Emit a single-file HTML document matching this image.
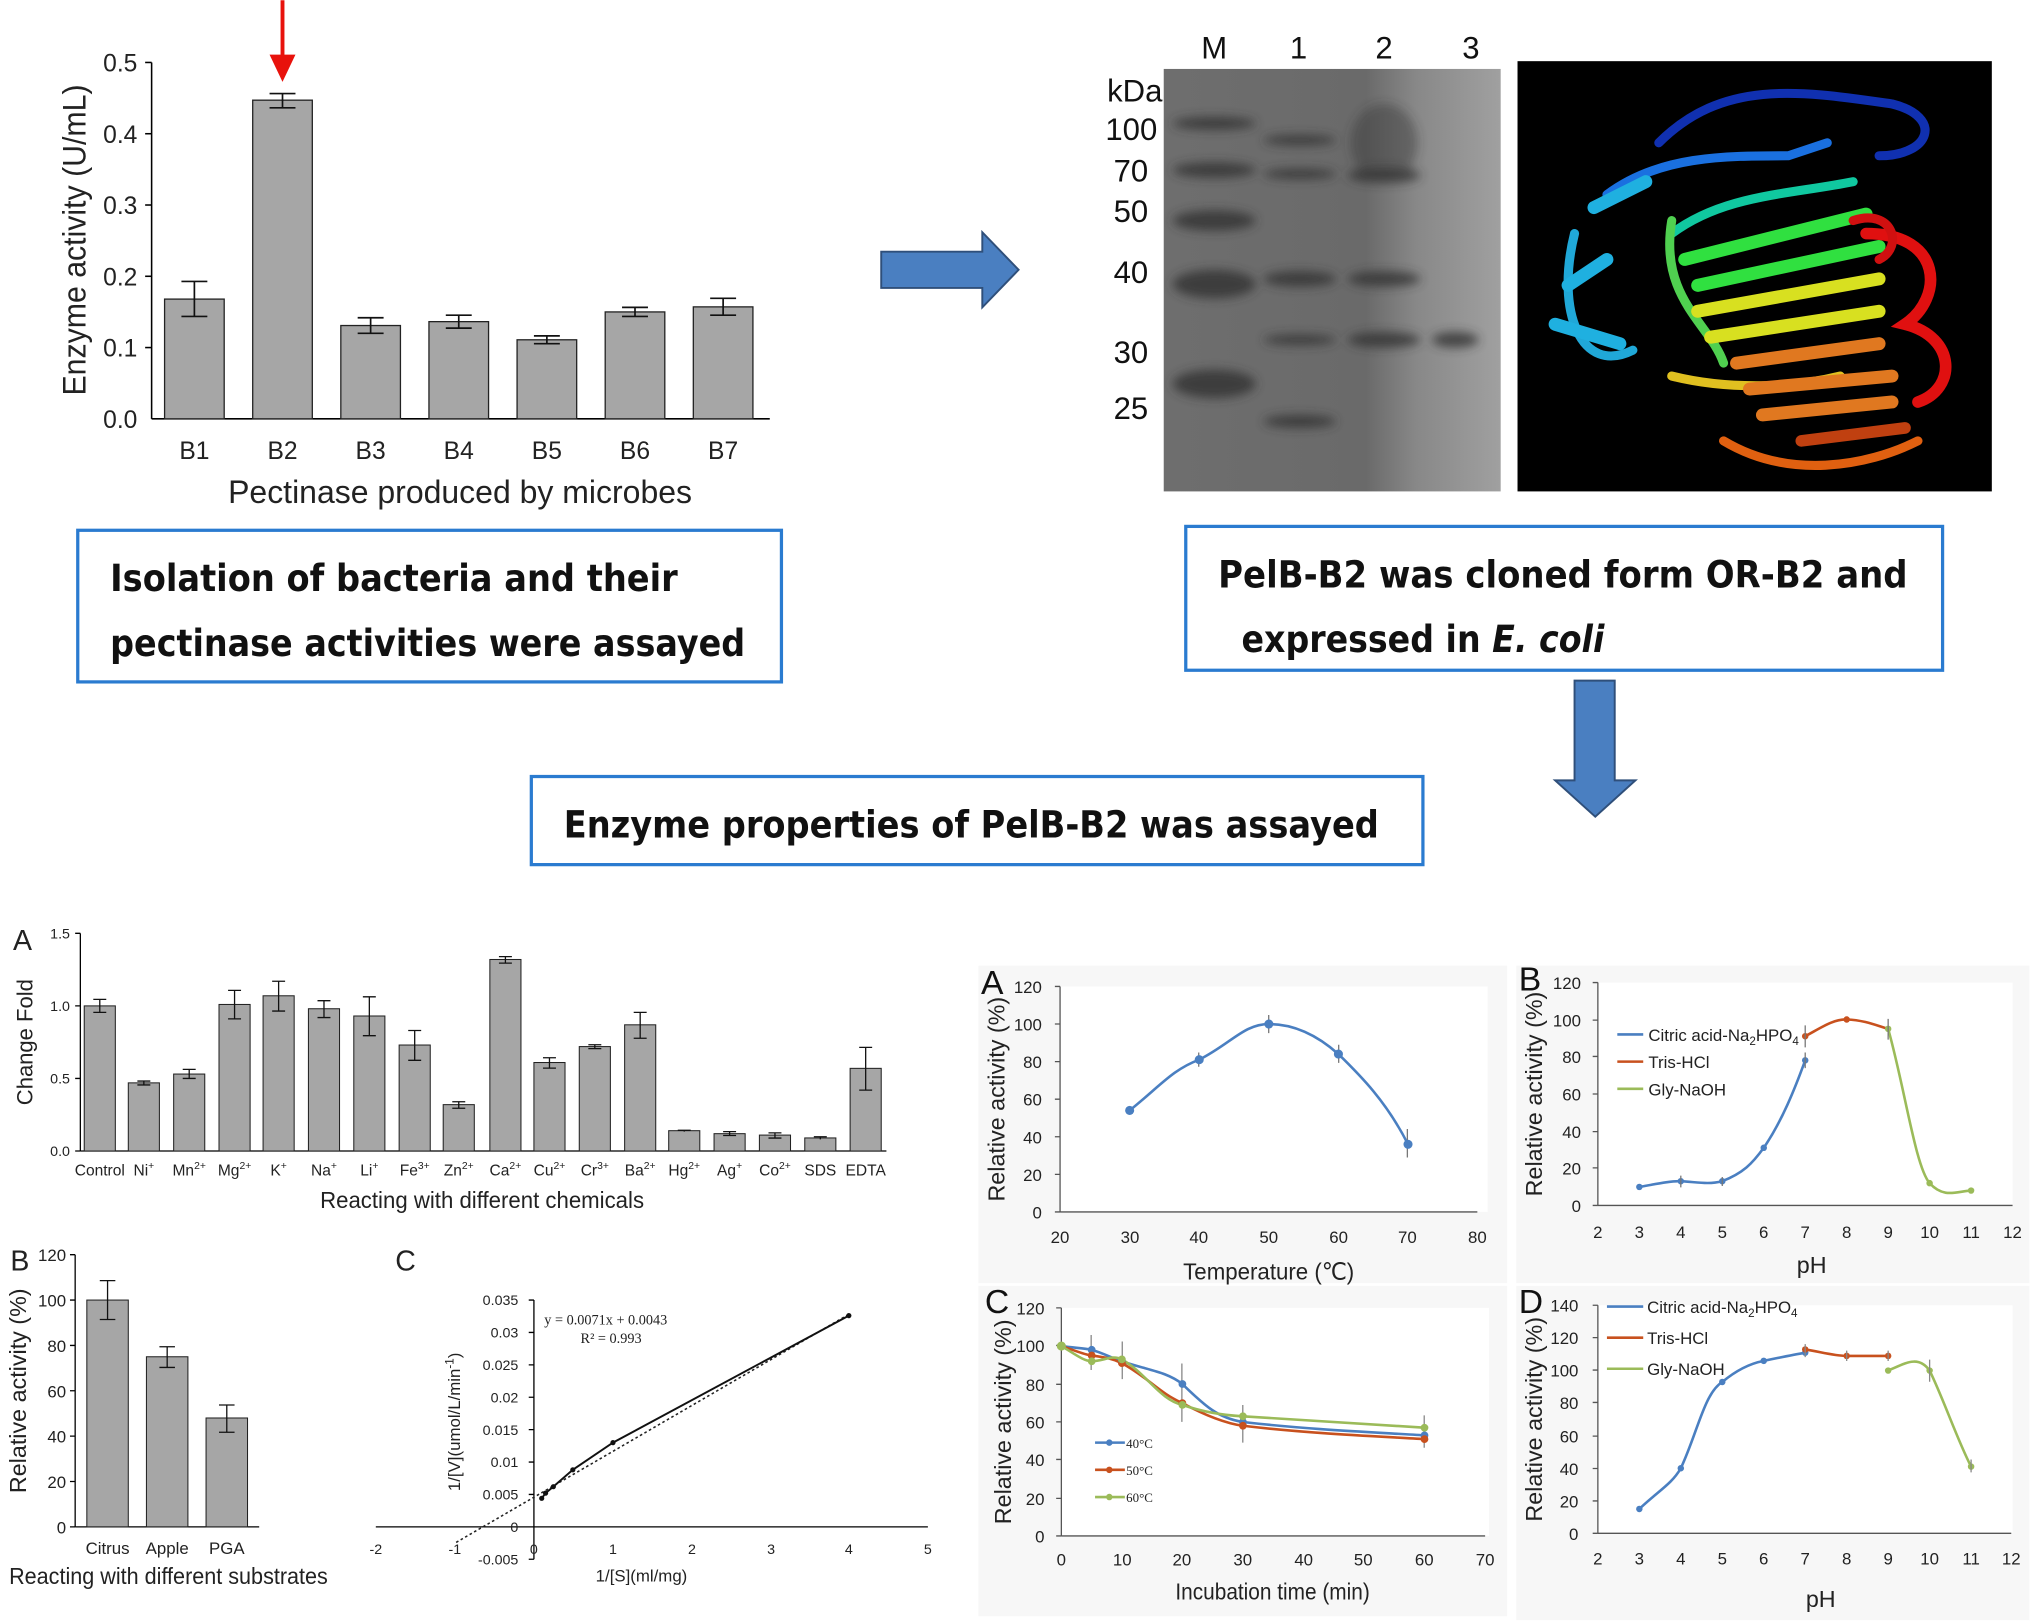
<!DOCTYPE html>
<html><head><meta charset="utf-8"><style>
html,body{margin:0;padding:0;background:#fff}
svg{display:block}
text{font-family:"Liberation Sans",Arial,sans-serif}
.s{font-family:"Liberation Serif",serif}
.b{font-weight:bold;font-family:"DejaVu Sans","Liberation Sans",sans-serif}
</style></head><body>
<svg width="2032" height="1623" viewBox="0 0 1568 1252" xmlns="http://www.w3.org/2000/svg">
<rect width="1568" height="1252" fill="#fff"/>

<!-- ========== TOP BAR CHART ========== -->
<g stroke="#000" stroke-width="1.2" fill="none">
<line x1="117" y1="48" x2="117" y2="323"/><line x1="117" y1="323" x2="594" y2="323"/>
<line x1="112" y1="48" x2="117" y2="48"/><line x1="112" y1="103" x2="117" y2="103"/><line x1="112" y1="158" x2="117" y2="158"/><line x1="112" y1="213" x2="117" y2="213"/><line x1="112" y1="268" x2="117" y2="268"/>
</g>
<g font-size="19" text-anchor="end" fill="#222">
<text x="106" y="55">0.5</text><text x="106" y="110">0.4</text><text x="106" y="165">0.3</text><text x="106" y="220">0.2</text><text x="106" y="275">0.1</text><text x="106" y="330">0.0</text>
</g>
<g fill="#a6a6a6" stroke="#222" stroke-width="1">
<rect x="127" y="230.6" width="46" height="92.4"/>
<rect x="195" y="77.1" width="46" height="245.9"/>
<rect x="263" y="251" width="46" height="72"/>
<rect x="331" y="248" width="46" height="75"/>
<rect x="399" y="262" width="46" height="61"/>
<rect x="467" y="240.5" width="46" height="82.5"/>
<rect x="535" y="236.6" width="46" height="86.4"/>
</g>
<g stroke="#111" stroke-width="1.3">
<path d="M150 217V244M140 217H160M140 244H160"/>
<path d="M218 72V83M208 72H228M208 83H228"/>
<path d="M286 245V257M276 245H296M276 257H296"/>
<path d="M354 243V253M344 243H364M344 253H364"/>
<path d="M422 259V265M412 259H432M412 265H432"/>
<path d="M490 237V244M480 237H500M480 244H500"/>
<path d="M558 230V243M548 230H568M548 243H568"/>
</g>
<g font-size="19" text-anchor="middle" fill="#222">
<text x="150" y="354">B1</text><text x="218" y="354">B2</text><text x="286" y="354">B3</text><text x="354" y="354">B4</text><text x="422" y="354">B5</text><text x="490" y="354">B6</text><text x="558" y="354">B7</text>
</g>
<text x="355" y="388" font-size="25" text-anchor="middle" fill="#222" textLength="358" lengthAdjust="spacingAndGlyphs">Pectinase produced by microbes</text>
<text transform="translate(66,185) rotate(-90)" font-size="25" text-anchor="middle" fill="#222" textLength="240" lengthAdjust="spacingAndGlyphs">Enzyme activity (U/mL)</text>
<line x1="218" y1="0" x2="218" y2="44" stroke="#e8120c" stroke-width="3"/>
<polygon points="208,42 228,42 218,63" fill="#e8120c"/>

<rect x="60" y="409" width="543" height="117" fill="none" stroke="#2a7bd0" stroke-width="2.5"/>
<text x="85" y="456" font-size="29" class="b" fill="#111" textLength="438" lengthAdjust="spacingAndGlyphs">Isolation of bacteria and their</text>
<text x="85" y="506" font-size="29" class="b" fill="#111" textLength="490" lengthAdjust="spacingAndGlyphs">pectinase activities were assayed</text>

<!-- right arrow -->
<polygon points="680,194 758,194 758,179 786,208 758,237 758,222 680,222" fill="#4a7fc1" stroke="#2f4f7a" stroke-width="1.5"/>

<!-- ========== GEL ========== -->
<g class="s" font-size="24" fill="#111" text-anchor="middle">
<text x="937" y="45">M</text><text x="1002" y="45">1</text><text x="1068" y="45">2</text><text x="1135" y="45">3</text>
</g>
<g class="s" font-size="24" fill="#111" text-anchor="end">
<text x="897" y="78">kDa</text><text x="893" y="108">100</text><text x="886" y="140">70</text><text x="886" y="171">50</text><text x="886" y="218">40</text><text x="886" y="280">30</text><text x="886" y="323">25</text>
</g>
<defs>
<linearGradient id="gel" x1="0" x2="1" y1="0" y2="0">
<stop offset="0" stop-color="#6e6e6e"/><stop offset="0.6" stop-color="#6a6a6a"/><stop offset="0.75" stop-color="#888"/><stop offset="1" stop-color="#a0a0a0"/>
</linearGradient>
<filter id="bl"><feGaussianBlur stdDeviation="4"/></filter>
</defs>
<rect x="898" y="53" width="260" height="326" fill="url(#gel)"/>
<g fill="#333" filter="url(#bl)" opacity="0.8">
<ellipse cx="937" cy="95" rx="32" ry="5"/><ellipse cx="937" cy="131" rx="32" ry="6"/><ellipse cx="937" cy="170" rx="32" ry="8"/>
<ellipse cx="937" cy="219" rx="32" ry="11"/><ellipse cx="937" cy="296" rx="32" ry="11"/>
<ellipse cx="1003" cy="108" rx="28" ry="4"/><ellipse cx="1003" cy="134" rx="28" ry="4"/><ellipse cx="1003" cy="215" rx="28" ry="6"/><ellipse cx="1003" cy="262" rx="28" ry="4"/><ellipse cx="1003" cy="325" rx="28" ry="5"/>
<ellipse cx="1068" cy="110" rx="26" ry="30" opacity="0.5"/><ellipse cx="1068" cy="135" rx="28" ry="6"/><ellipse cx="1068" cy="215" rx="28" ry="6"/><ellipse cx="1068" cy="262" rx="28" ry="6"/>
<ellipse cx="1123" cy="262" rx="18" ry="6"/>
</g>

<!-- ========== PROTEIN ========== -->
<rect x="1171" y="47" width="366" height="332" fill="#000"/>
<g fill="none" stroke-width="7" stroke-linecap="round">
<path d="M1280 110 C1330 60 1390 70 1460 80 C1500 90 1490 120 1450 120" stroke="#1030b0"/>
<path d="M1240 150 C1280 120 1330 120 1380 120 L1410 110" stroke="#1a70e0"/>
<path d="M1215 180 C1200 240 1220 290 1260 270" stroke="#20a8d8"/>
<path d="M1230 160 L1270 140 M1210 220 L1240 200 M1200 250 L1250 265" stroke="#1fb0e0" stroke-width="10"/>
<path d="M1290 180 C1330 150 1380 150 1430 140" stroke="#10c8a0"/>
<path d="M1300 200 L1440 165 M1310 220 L1450 190" stroke="#30e040" stroke-width="10"/>
<path d="M1290 170 C1280 230 1320 250 1330 280" stroke="#50d050"/>
<path d="M1310 240 L1450 215 M1320 260 L1450 240" stroke="#d8e020" stroke-width="10"/>
<path d="M1290 290 C1330 300 1380 300 1420 290" stroke="#e0c020"/>
<path d="M1340 280 L1450 265 M1350 300 L1460 290 M1360 320 L1460 310" stroke="#e07820" stroke-width="10"/>
<path d="M1330 340 C1380 370 1440 360 1480 340" stroke="#e06010"/>
<path d="M1440 180 C1500 180 1500 230 1470 250 C1510 260 1510 300 1480 310" stroke="#e01010" stroke-width="9"/>
<path d="M1430 170 C1460 160 1470 190 1450 200" stroke="#d01010"/>
<path d="M1390 340 L1470 330" stroke="#c04010" stroke-width="9"/>
</g>

<rect x="915" y="406" width="584" height="111" fill="none" stroke="#2a7bd0" stroke-width="2.5"/>
<text x="940" y="453" font-size="29" class="b" fill="#111" textLength="532" lengthAdjust="spacingAndGlyphs">PelB-B2 was cloned form OR-B2 and</text>
<text x="958" y="503" font-size="29" class="b" fill="#111" textLength="280" lengthAdjust="spacingAndGlyphs">expressed in <tspan font-style="italic">E. coli</tspan></text>

<!-- down arrow -->
<polygon points="1215,525 1246,525 1246,602 1262,602 1231,630 1200,602 1215,602" fill="#4a7fc1" stroke="#2f4f7a" stroke-width="1.5"/>

<rect x="410" y="599" width="688" height="68" fill="none" stroke="#2a7bd0" stroke-width="2.5"/>
<text x="435" y="646" font-size="29" class="b" fill="#111" textLength="629" lengthAdjust="spacingAndGlyphs">Enzyme properties of PelB-B2 was assayed</text>

<!-- ========== BOTTOM LEFT A ========== -->
<text x="10" y="733" font-size="22" fill="#222">A</text>
<g stroke="#000" stroke-width="1">
<line x1="62" y1="720" x2="62" y2="888"/><line x1="62" y1="888" x2="684" y2="888"/>
<path d="M58 720H62M58 776H62M58 832H62M58 888H62"/>
</g>
<g font-size="11" text-anchor="end" fill="#222"><text x="54" y="724">1.5</text><text x="54" y="780">1.0</text><text x="54" y="836">0.5</text><text x="54" y="892">0.0</text></g>
<text transform="translate(25,804) rotate(-90)" font-size="17" text-anchor="middle" fill="#222">Change Fold</text>
<g fill="#a6a6a6" stroke="#222" stroke-width="0.8">
<rect x="65" y="776" width="24" height="112"/><rect x="99" y="835.4" width="24" height="52.6"/><rect x="134" y="828.6" width="24" height="59.4"/>
<rect x="169" y="774.9" width="24" height="113.1"/><rect x="203" y="768.2" width="24" height="119.8"/><rect x="238" y="778.2" width="24" height="109.8"/>
<rect x="273" y="783.8" width="24" height="104.2"/><rect x="308" y="806.2" width="24" height="81.8"/><rect x="342" y="852.2" width="24" height="35.8"/>
<rect x="378" y="740.2" width="24" height="147.8"/><rect x="412" y="819.7" width="24" height="68.3"/><rect x="447" y="807.4" width="24" height="80.6"/>
<rect x="482" y="790.6" width="24" height="97.4"/><rect x="516" y="872.3" width="24" height="15.7"/><rect x="551" y="874.6" width="24" height="13.4"/>
<rect x="586" y="875.7" width="24" height="12.3"/><rect x="621" y="877.9" width="24" height="10.1"/><rect x="656" y="824.2" width="24" height="63.8"/>
</g>
<g stroke="#111" stroke-width="1">
<path d="M77 771V781M72 771H82M72 781H82"/><path d="M111 834V837M106 834H116M106 837H116"/><path d="M146 825V832M141 825H151M141 832H151"/>
<path d="M181 764V786M176 764H186M176 786H186"/><path d="M215 757V780M210 757H220M210 780H220"/><path d="M250 772V785M245 772H255M245 785H255"/>
<path d="M285 769V799M280 769H290M280 799H290"/><path d="M320 795V818M315 795H325M315 818H325"/><path d="M354 850V855M349 850H359M349 855H359"/>
<path d="M390 738V743M385 738H395M385 743H395"/><path d="M424 816V824M419 816H429M419 824H429"/><path d="M459 806V809M454 806H464M454 809H464"/>
<path d="M494 781V801M489 781H499M489 801H499"/><path d="M528 872V873M523 872H533"/><path d="M563 873V876M558 873H568M558 876H568"/>
<path d="M598 874V878M593 874H603M593 878H603"/><path d="M633 877V879M628 877H638"/><path d="M668 808V841M663 808H673M663 841H673"/>
</g>
<g font-size="12" text-anchor="middle" fill="#222">
<text x="77" y="907">Control</text><text x="111" y="907">Ni<tspan font-size="8" dy="-5">+</tspan></text><text x="146" y="907">Mn<tspan font-size="8" dy="-5">2+</tspan></text>
<text x="181" y="907">Mg<tspan font-size="8" dy="-5">2+</tspan></text><text x="215" y="907">K<tspan font-size="8" dy="-5">+</tspan></text><text x="250" y="907">Na<tspan font-size="8" dy="-5">+</tspan></text>
<text x="285" y="907">Li<tspan font-size="8" dy="-5">+</tspan></text><text x="320" y="907">Fe<tspan font-size="8" dy="-5">3+</tspan></text><text x="354" y="907">Zn<tspan font-size="8" dy="-5">2+</tspan></text>
<text x="390" y="907">Ca<tspan font-size="8" dy="-5">2+</tspan></text><text x="424" y="907">Cu<tspan font-size="8" dy="-5">2+</tspan></text><text x="459" y="907">Cr<tspan font-size="8" dy="-5">3+</tspan></text>
<text x="494" y="907">Ba<tspan font-size="8" dy="-5">2+</tspan></text><text x="528" y="907">Hg<tspan font-size="8" dy="-5">2+</tspan></text><text x="563" y="907">Ag<tspan font-size="8" dy="-5">+</tspan></text>
<text x="598" y="907">Co<tspan font-size="8" dy="-5">2+</tspan></text><text x="633" y="907">SDS</text><text x="668" y="907">EDTA</text>
</g>
<text x="372" y="932" font-size="18" text-anchor="middle" fill="#222" textLength="250" lengthAdjust="spacingAndGlyphs">Reacting with different chemicals</text>

<!-- ========== BOTTOM LEFT B ========== -->
<text x="8" y="980" font-size="22" fill="#222">B</text>
<g stroke="#000" stroke-width="1">
<line x1="58" y1="968" x2="58" y2="1178"/><line x1="58" y1="1178" x2="200" y2="1178"/>
<path d="M54 968H58M54 1003H58M54 1038H58M54 1073H58M54 1108H58M54 1143H58M54 1178H58"/>
</g>
<g font-size="13" text-anchor="end" fill="#222"><text x="51" y="973">120</text><text x="51" y="1008">100</text><text x="51" y="1043">80</text><text x="51" y="1078">60</text><text x="51" y="1113">40</text><text x="51" y="1148">20</text><text x="51" y="1183">0</text></g>
<text transform="translate(20,1073) rotate(-90)" font-size="18" text-anchor="middle" fill="#222">Relative activity (%)</text>
<g fill="#a6a6a6" stroke="#222" stroke-width="0.8">
<rect x="67" y="1003" width="32" height="175"/><rect x="113" y="1046.75" width="32" height="131.25"/><rect x="159" y="1094" width="32" height="84"/>
</g>
<g stroke="#111" stroke-width="1"><path d="M83 988V1018M77 988H89M77 1018H89"/><path d="M129 1039V1055M123 1039H135M123 1055H135"/><path d="M175 1084V1105M169 1084H181M169 1105H181"/></g>
<g font-size="13" text-anchor="middle" fill="#222"><text x="83" y="1199">Citrus</text><text x="129" y="1199">Apple</text><text x="175" y="1199">PGA</text></g>
<text x="130" y="1222" font-size="18" text-anchor="middle" fill="#222" textLength="246" lengthAdjust="spacingAndGlyphs">Reacting with different substrates</text>

<!-- ========== BOTTOM LEFT C ========== -->
<text x="305" y="980" font-size="22" fill="#222">C</text>
<g stroke="#000" stroke-width="1">
<line x1="290" y1="1178" x2="716" y2="1178"/><line x1="412" y1="1003" x2="412" y2="1203"/>
<path d="M408 1003H412M408 1028H412M408 1053H412M408 1078H412M408 1103H412M408 1128H412M408 1153H412M408 1203H412"/>
</g>
<g font-size="11" text-anchor="end" fill="#222"><text x="400" y="1007">0.035</text><text x="400" y="1032">0.03</text><text x="400" y="1057">0.025</text><text x="400" y="1082">0.02</text><text x="400" y="1107">0.015</text><text x="400" y="1132">0.01</text><text x="400" y="1157">0.005</text><text x="400" y="1182">0</text><text x="400" y="1207">-0.005</text></g>
<g font-size="11" text-anchor="middle" fill="#222"><text x="290" y="1199">-2</text><text x="351" y="1199">-1</text><text x="412" y="1199">0</text><text x="473" y="1199">1</text><text x="534" y="1199">2</text><text x="595" y="1199">3</text><text x="655" y="1199">4</text><text x="716" y="1199">5</text></g>
<text transform="translate(355,1097) rotate(-90)" font-size="13" text-anchor="middle" fill="#222">1/[V](umol/L/min<tspan font-size="9" dy="-5">-1</tspan><tspan dy="5">)</tspan></text>
<text x="495" y="1220" font-size="13" text-anchor="middle" fill="#222">1/[S](ml/mg)</text>
<text x="420" y="1022" font-size="11" class="s" fill="#222">y = 0.0071x + 0.0043</text>
<text x="448" y="1036" font-size="11" class="s" fill="#222">R² = 0.993</text>
<line x1="352" y1="1190" x2="655" y2="1014" stroke="#222" stroke-width="1.2" stroke-dasharray="2,2"/>
<path d="M418 1156 L421 1152 L427 1147 L442 1134 L473 1113 L655 1015" fill="none" stroke="#111" stroke-width="1.5"/>
<g fill="#111"><circle cx="418" cy="1156" r="2"/><circle cx="421" cy="1152" r="2"/><circle cx="427" cy="1147" r="2"/><circle cx="442" cy="1134" r="2"/><circle cx="473" cy="1113" r="2"/><circle cx="655" cy="1015" r="2"/></g>

<!-- ========== RIGHT PANELS BG ========== -->
<rect x="755" y="745" width="408" height="245" fill="#f7f7f7"/>
<rect x="1170" y="745" width="396" height="245" fill="#f7f7f7"/>
<rect x="755" y="992" width="408" height="255" fill="#f7f7f7"/>
<rect x="1170" y="992" width="396" height="258" fill="#f7f7f7"/>
<rect x="818" y="761" width="330" height="174" fill="#fff"/>
<rect x="1233" y="758" width="320" height="172" fill="#fff"/>
<rect x="819" y="1009" width="330" height="176" fill="#fff"/>
<rect x="1233" y="1007" width="320" height="176" fill="#fff"/>

<!-- ===== Right A ===== -->
<text x="757" y="767" font-size="26" fill="#111">A</text>
<g stroke="#555" stroke-width="1"><line x1="818" y1="761" x2="818" y2="935"/><line x1="818" y1="935" x2="1140" y2="935"/>
<path d="M814 761H818M814 790H818M814 819H818M814 848H818M814 877H818M814 906H818M814 935H818"/></g>
<g font-size="13" text-anchor="end" fill="#222"><text x="804" y="766">120</text><text x="804" y="795">100</text><text x="804" y="824">80</text><text x="804" y="853">60</text><text x="804" y="882">40</text><text x="804" y="911">20</text><text x="804" y="940">0</text></g>
<g font-size="13" text-anchor="middle" fill="#222"><text x="818" y="959">20</text><text x="872" y="959">30</text><text x="925" y="959">40</text><text x="979" y="959">50</text><text x="1033" y="959">60</text><text x="1086" y="959">70</text><text x="1140" y="959">80</text></g>
<text x="979" y="987" font-size="18" text-anchor="middle" fill="#222" textLength="132" lengthAdjust="spacingAndGlyphs">Temperature (℃)</text>
<text transform="translate(775,848) rotate(-90)" font-size="18" text-anchor="middle" fill="#222">Relative activity (%)</text>
<path d="M871.7 856.7 C895 838 905 825 925.4 817.5 C950 805 960 790 979.1 790 C1000 790 1018 800 1032.8 813.2 C1050 830 1070 850 1086.5 882.8" fill="none" stroke="#4a7fc1" stroke-width="2"/>
<g stroke="#777" stroke-width="1"><path d="M925 812V823M979 783V797M1033 806V820M1086 871V893"/></g>
<g fill="#4a7fc1"><circle cx="871.7" cy="856.7" r="3.5"/><circle cx="925.4" cy="817.5" r="3.5"/><circle cx="979.1" cy="790" r="3.5"/><circle cx="1032.8" cy="813.2" r="3.5"/><circle cx="1086.5" cy="882.8" r="3.5"/></g>

<!-- ===== Right B ===== -->
<text x="1172" y="764" font-size="26" fill="#111">B</text>
<g stroke="#555" stroke-width="1"><line x1="1233" y1="758" x2="1233" y2="930"/><line x1="1233" y1="930" x2="1553" y2="930"/>
<path d="M1229 758H1233M1229 787H1233M1229 815H1233M1229 844H1233M1229 873H1233M1229 901H1233M1229 930H1233"/></g>
<g font-size="13" text-anchor="end" fill="#222"><text x="1220" y="763">120</text><text x="1220" y="792">100</text><text x="1220" y="820">80</text><text x="1220" y="849">60</text><text x="1220" y="878">40</text><text x="1220" y="906">20</text><text x="1220" y="935">0</text></g>
<g font-size="13" text-anchor="middle" fill="#222"><text x="1233" y="955">2</text><text x="1265" y="955">3</text><text x="1297" y="955">4</text><text x="1329" y="955">5</text><text x="1361" y="955">6</text><text x="1393" y="955">7</text><text x="1425" y="955">8</text><text x="1457" y="955">9</text><text x="1489" y="955">10</text><text x="1521" y="955">11</text><text x="1553" y="955">12</text></g>
<text x="1398" y="982" font-size="18" text-anchor="middle" fill="#222">pH</text>
<text transform="translate(1190,844) rotate(-90)" font-size="18" text-anchor="middle" fill="#222">Relative activity (%)</text>
<path d="M1265 915.7 C1280 913 1290 911 1297 911.3 C1310 912 1318 914 1329 911.3 C1345 905 1352 898 1361 885.5 C1375 865 1385 840 1393 818" fill="none" stroke="#4a7fc1" stroke-width="2"/>
<path d="M1393 799.4 C1405 793 1415 786 1425 786.5 C1440 787 1450 792 1457 793.7" fill="none" stroke="#c8511e" stroke-width="2"/>
<path d="M1457 793.7 C1470 840 1478 900 1489 912.8 C1500 925 1510 919 1521 918.5" fill="none" stroke="#9bbb59" stroke-width="2"/>
<g fill="#4a7fc1"><circle cx="1265" cy="915.7" r="2.5"/><circle cx="1297" cy="911.3" r="2.5"/><circle cx="1329" cy="911.3" r="2.5"/><circle cx="1361" cy="885.5" r="2.5"/><circle cx="1393" cy="818" r="2.5"/></g>
<g fill="#c8511e"><circle cx="1393" cy="799.4" r="2.5"/><circle cx="1425" cy="786.5" r="2.5"/></g>
<g fill="#9bbb59"><circle cx="1457" cy="793.7" r="2.5"/><circle cx="1489" cy="912.8" r="2.5"/><circle cx="1521" cy="918.5" r="2.5"/></g>
<g stroke="#777" stroke-width="1"><path d="M1297 907V916M1329 908V915M1393 812V824M1393 791V808M1457 786V802"/></g>
<line x1="1248" y1="798" x2="1268" y2="798" stroke="#4a7fc1" stroke-width="2"/><text x="1272" y="803" font-size="13" fill="#222">Citric acid-Na<tspan font-size="9" dy="3">2</tspan><tspan dy="-3">HPO</tspan><tspan font-size="9" dy="3">4</tspan></text>
<line x1="1248" y1="819" x2="1268" y2="819" stroke="#c8511e" stroke-width="2"/><text x="1272" y="824" font-size="13" fill="#222">Tris-HCl</text>
<line x1="1248" y1="840" x2="1268" y2="840" stroke="#9bbb59" stroke-width="2"/><text x="1272" y="845" font-size="13" fill="#222">Gly-NaOH</text>

<!-- ===== Right C ===== -->
<text x="760" y="1013" font-size="26" fill="#111">C</text>
<g stroke="#555" stroke-width="1"><line x1="819" y1="1009" x2="819" y2="1185"/><line x1="819" y1="1185" x2="1146" y2="1185"/>
<path d="M815 1009H819M815 1038H819M815 1068H819M815 1097H819M815 1126H819M815 1156H819M815 1185H819"/></g>
<g font-size="13" text-anchor="end" fill="#222"><text x="806" y="1014">120</text><text x="806" y="1043">100</text><text x="806" y="1073">80</text><text x="806" y="1102">60</text><text x="806" y="1131">40</text><text x="806" y="1161">20</text><text x="806" y="1190">0</text></g>
<g font-size="13" text-anchor="middle" fill="#222"><text x="819" y="1208">0</text><text x="866" y="1208">10</text><text x="912" y="1208">20</text><text x="959" y="1208">30</text><text x="1006" y="1208">40</text><text x="1052" y="1208">50</text><text x="1099" y="1208">60</text><text x="1146" y="1208">70</text></g>
<text x="982" y="1234" font-size="18" text-anchor="middle" fill="#222" textLength="150" lengthAdjust="spacingAndGlyphs">Incubation time (min)</text>
<text transform="translate(780,1097) rotate(-90)" font-size="18" text-anchor="middle" fill="#222">Relative activity (%)</text>
<path d="M819 1038.5 C830 1040 836 1040 842.4 1041.4 C852 1044 858 1048 865.7 1050.2 C885 1057 900 1058 912.4 1067.8 C930 1085 940 1094 959.1 1097.1 C1010 1103 1060 1105 1099.2 1107.4" fill="none" stroke="#4a7fc1" stroke-width="2"/>
<path d="M819 1038.5 C830 1042 836 1045 842.4 1045.8 C852 1047 858 1048 865.7 1051.7 C885 1062 895 1075 912.4 1082.5 C930 1092 945 1098 959.1 1100 C1010 1106 1060 1108 1099.2 1110.3" fill="none" stroke="#c8511e" stroke-width="2"/>
<path d="M819 1038.5 C830 1045 836 1050 842.4 1050.2 C852 1050 858 1045 865.7 1048.8 C885 1060 895 1080 912.4 1083.9 C930 1090 945 1092 959.1 1092.7 C1010 1096 1060 1099 1099.2 1101.5" fill="none" stroke="#9bbb59" stroke-width="2"/>
<g stroke="#888" stroke-width="1"><path d="M842 1030V1057M866 1035V1064M912 1052V1097M959 1084V1113M1099 1092V1117"/></g>
<g fill="#4a7fc1"><circle cx="842.4" cy="1041.4" r="3"/><circle cx="865.7" cy="1050.2" r="3"/><circle cx="912.4" cy="1067.8" r="3"/><circle cx="959.1" cy="1097.1" r="3"/><circle cx="1099.2" cy="1107.4" r="3"/></g>
<g fill="#c8511e"><circle cx="842.4" cy="1045.8" r="3"/><circle cx="865.7" cy="1051.7" r="3"/><circle cx="912.4" cy="1082.5" r="3"/><circle cx="959.1" cy="1100" r="3"/><circle cx="1099.2" cy="1110.3" r="3"/></g>
<g fill="#9bbb59"><circle cx="819" cy="1038.5" r="3.5"/><circle cx="842.4" cy="1050.2" r="3"/><circle cx="865.7" cy="1048.8" r="3"/><circle cx="912.4" cy="1083.9" r="3"/><circle cx="959.1" cy="1092.7" r="3"/><circle cx="1099.2" cy="1101.5" r="3"/></g>
<line x1="845" y1="1113" x2="868" y2="1113" stroke="#4a7fc1" stroke-width="2"/><circle cx="856" cy="1113" r="2.5" fill="#4a7fc1"/><text x="869" y="1117" font-size="10" class="s" fill="#222">40°C</text>
<line x1="845" y1="1134" x2="868" y2="1134" stroke="#c8511e" stroke-width="2"/><circle cx="856" cy="1134" r="2.5" fill="#c8511e"/><text x="869" y="1138" font-size="10" class="s" fill="#222">50°C</text>
<line x1="845" y1="1155" x2="868" y2="1155" stroke="#9bbb59" stroke-width="2"/><circle cx="856" cy="1155" r="2.5" fill="#9bbb59"/><text x="869" y="1159" font-size="10" class="s" fill="#222">60°C</text>

<!-- ===== Right D ===== -->
<text x="1172" y="1013" font-size="26" fill="#111">D</text>
<g stroke="#555" stroke-width="1"><line x1="1233" y1="1007" x2="1233" y2="1183"/><line x1="1233" y1="1183" x2="1552" y2="1183"/>
<path d="M1229 1007H1233M1229 1032H1233M1229 1057H1233M1229 1082H1233M1229 1108H1233M1229 1133H1233M1229 1158H1233M1229 1183H1233"/></g>
<g font-size="13" text-anchor="end" fill="#222"><text x="1218" y="1012">140</text><text x="1218" y="1037">120</text><text x="1218" y="1062">100</text><text x="1218" y="1087">80</text><text x="1218" y="1113">60</text><text x="1218" y="1138">40</text><text x="1218" y="1163">20</text><text x="1218" y="1188">0</text></g>
<g font-size="13" text-anchor="middle" fill="#222"><text x="1233" y="1207">2</text><text x="1265" y="1207">3</text><text x="1297" y="1207">4</text><text x="1329" y="1207">5</text><text x="1361" y="1207">6</text><text x="1393" y="1207">7</text><text x="1425" y="1207">8</text><text x="1457" y="1207">9</text><text x="1489" y="1207">10</text><text x="1521" y="1207">11</text><text x="1552" y="1207">12</text></g>
<text x="1405" y="1240" font-size="18" text-anchor="middle" fill="#222">pH</text>
<text transform="translate(1190,1095) rotate(-90)" font-size="18" text-anchor="middle" fill="#222">Relative activity (%)</text>
<path d="M1265 1164.2 C1280 1150 1290 1145 1297 1132.8 C1310 1105 1315 1075 1329 1066.2 C1340 1057 1350 1052 1361 1049.9 C1375 1047 1385 1045 1393 1043.6" fill="none" stroke="#4a7fc1" stroke-width="2"/>
<path d="M1393 1041.1 C1405 1043 1415 1046 1425 1046.1 L1457 1046.1" fill="none" stroke="#c8511e" stroke-width="2"/>
<path d="M1457 1057.4 C1470 1052 1480 1045 1489 1057.4 C1500 1080 1510 1110 1521 1131.5" fill="none" stroke="#9bbb59" stroke-width="2"/>
<g fill="#4a7fc1"><circle cx="1265" cy="1164.2" r="2.5"/><circle cx="1297" cy="1132.8" r="2.5"/><circle cx="1329" cy="1066.2" r="2.5"/><circle cx="1361" cy="1049.9" r="2.5"/><circle cx="1393" cy="1043.6" r="2.5"/></g>
<g fill="#c8511e"><circle cx="1393" cy="1041.1" r="2.5"/><circle cx="1425" cy="1046.1" r="2.5"/><circle cx="1457" cy="1046.1" r="2.5"/></g>
<g fill="#9bbb59"><circle cx="1457" cy="1057.4" r="2.5"/><circle cx="1489" cy="1057.4" r="2.5"/><circle cx="1521" cy="1131.5" r="2.5"/></g>
<g stroke="#888" stroke-width="1"><path d="M1393 1037V1047M1425 1042V1050M1457 1042V1050M1489 1049V1066M1521 1126V1136"/></g>
<line x1="1240" y1="1008" x2="1268" y2="1008" stroke="#4a7fc1" stroke-width="2"/><text x="1271" y="1013" font-size="13" fill="#222">Citric acid-Na<tspan font-size="9" dy="3">2</tspan><tspan dy="-3">HPO</tspan><tspan font-size="9" dy="3">4</tspan></text>
<line x1="1240" y1="1032" x2="1268" y2="1032" stroke="#c8511e" stroke-width="2"/><text x="1271" y="1037" font-size="13" fill="#222">Tris-HCl</text>
<line x1="1240" y1="1056" x2="1268" y2="1056" stroke="#9bbb59" stroke-width="2"/><text x="1271" y="1061" font-size="13" fill="#222">Gly-NaOH</text>
</svg>
</body></html>
